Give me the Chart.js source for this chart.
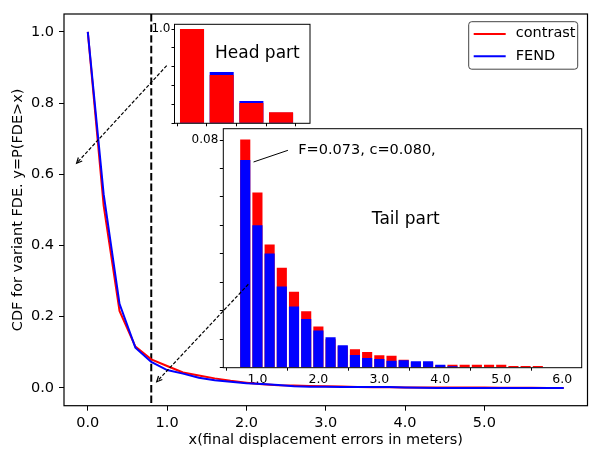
<!DOCTYPE html>
<html>
<head>
<meta charset="utf-8">
<script src="https://cdn.jsdelivr.net/npm/chart.js@4.4.1/dist/chart.umd.min.js"></script>
<style>
  html, body { margin: 0; padding: 0; background: #fff; }
  #wrap { position: relative; width: 589px; height: 451px; overflow: hidden; }
  #wrap canvas { position: absolute; }
  #headChart { left: 140px; top: 15px; z-index: 1; }
  #tailChart { left: 190px; top: 120px; z-index: 2; }
  #mainChart { left: 0; top: 0; z-index: 3; }
</style>
</head>
<body>
<div id="wrap">
  <canvas id="headChart" width="180" height="125"></canvas>
  <canvas id="tailChart" width="399" height="280"></canvas>
  <canvas id="mainChart" width="589" height="451"></canvas>
</div>
<script>
// P(FDE > x), sampled every 0.2 m
const headX = [0, 0.2, 0.4, 0.6];
const headContrast = [1.0, 0.512, 0.216, 0.116];
const headFend = [1.0, 0.544, 0.236, 0.113];

const tailX = [0.8, 1.0, 1.2, 1.4, 1.6, 1.8, 2.0, 2.2, 2.4, 2.6, 2.8, 3.0, 3.2, 3.4,
  3.6, 3.8, 4.0, 4.2, 4.4, 4.6, 4.8, 5.0, 5.2, 5.4, 5.6, 5.8, 6.0];
const tailContrast = [0.0802, 0.0616, 0.0433, 0.0351, 0.0267, 0.0198, 0.0145, 0.0100, 0.0075,
  0.0065, 0.0055, 0.0044, 0.0042, 0.0028, 0.0020, 0.0018, 0.0008, 0.0010, 0.0010, 0.0010,
  0.0010, 0.0010, 0.0006, 0.0006, 0.0006, 0, 0];
const tailFend = [0.0730, 0.0501, 0.0401, 0.0285, 0.0215, 0.0171, 0.0131, 0.0107, 0.0079,
  0.0045, 0.0034, 0.0031, 0.0024, 0.0026, 0.0023, 0.0023, 0.0010, 0.0005, 0, 0,
  0, 0, 0, 0, 0, 0, 0];

const mainXTicks = [0, 1, 2, 3, 4, 5];
const mainYTicks = [0, 0.2, 0.4, 0.6, 0.8, 1.0];
const headXTicks = [0, 0.2, 0.4, 0.6];
const headYTicks = [0, 0.2, 0.4, 0.6, 0.8, 1.0];
const tailXTicks = [1, 2, 3, 4, 5, 6];
const tailYTicks = [0, 0.01, 0.02, 0.03, 0.04, 0.05, 0.06, 0.07, 0.08];
const dashX = 0.8;

const RED = '#ff0000';
const BLUE = '#0000ff';
const FONT = "'DejaVu Sans', sans-serif";
Chart.defaults.font.family = FONT;
Chart.defaults.color = '#000';

const toPoints = (xs, ys) => xs.map((x, i) => ({ x, y: ys[i] }));

function axis(ticksList, opts) {
  return {
    type: 'linear',
    min: opts.min,
    max: opts.max,
    offset: false,
    border: { display: false },
    grid: { display: true, drawOnChartArea: false, drawTicks: true, tickLength: opts.tickLen, color: '#000', lineWidth: 1 },
    ticks: { color: '#000', font: { size: opts.size }, padding: opts.pad, maxRotation: 0, autoSkip: false, callback: opts.label },
    afterBuildTicks: (s) => { s.ticks = ticksList.map((v) => ({ value: v })); },
    afterFit: (s) => { if (s.isHorizontal()) s.height = opts.room; else s.width = opts.room; },
    title: opts.title || { display: false }
  };
}

const frame = {
  id: 'frame',
  beforeDraw(chart, args, o) {
    if (!o.fill) return;
    const a = chart.chartArea;
    chart.ctx.fillStyle = '#fff';
    chart.ctx.fillRect(a.left, a.top, a.right - a.left, a.bottom - a.top);
  },
  afterDraw(chart, args, o) {
    const a = chart.chartArea;
    const ctx = chart.ctx;
    ctx.save();
    ctx.strokeStyle = '#000';
    ctx.lineWidth = o.width || 1;
    ctx.strokeRect(a.left, a.top, a.right - a.left, a.bottom - a.top);
    ctx.restore();
  }
};

function textAt(chart, txt, x, y, size) {
  const ctx = chart.ctx;
  ctx.save();
  ctx.fillStyle = '#000';
  ctx.font = size + 'px ' + FONT;
  ctx.textBaseline = 'middle';
  ctx.textAlign = 'left';
  ctx.fillText(txt, chart.scales.x.getPixelForValue(x), chart.scales.y.getPixelForValue(y));
  ctx.restore();
}

// head inset
new Chart(document.getElementById('headChart'), {
  type: 'bar',
  data: {
    datasets: [
      { label: 'contrast', data: toPoints(headX, headContrast), backgroundColor: RED, order: 0 },
      { label: 'FEND', data: toPoints(headX, headFend), backgroundColor: BLUE, order: 1 }
    ]
  },
  options: {
    responsive: false, animation: false, events: [],
    datasets: { bar: { grouped: false, categoryPercentage: 1, barPercentage: 0.81 } },
    layout: { padding: { left: 0, top: 9.3, right: 10, bottom: 0 } },
    plugins: { legend: { display: false }, tooltip: { enabled: false }, frame: { fill: true } },
    scales: {
      x: axis(headXTicks, { min: -0.118, max: 0.795, tickLen: 3, size: 12, pad: 2, room: 16.7, label: () => '' }),
      y: axis(headYTicks, { min: 0, max: 1.05, tickLen: 3, size: 12, pad: 1, room: 34.5, label: (v) => (v === 1 ? '1.0' : '') })
    }
  },
  plugins: [frame, {
    id: 'headText',
    afterDatasetsDraw(chart) { textAt(chart, 'Head part', 0.155, 0.74, 17); }
  }]
});

// tail inset
new Chart(document.getElementById('tailChart'), {
  type: 'bar',
  data: {
    datasets: [
      { label: 'FEND', data: toPoints(tailX, tailFend), backgroundColor: BLUE, order: 0 },
      { label: 'contrast', data: toPoints(tailX, tailContrast), backgroundColor: RED, order: 1 }
    ]
  },
  options: {
    responsive: false, animation: false, events: [],
    datasets: { bar: { grouped: false, categoryPercentage: 1, barPercentage: 0.83 } },
    layout: { padding: { left: 0, top: 7.7, right: 7.3, bottom: 0 } },
    plugins: { legend: { display: false }, tooltip: { enabled: false }, frame: { fill: true } },
    scales: {
      x: axis(tailXTicks, { min: 0.44, max: 6.32, tickLen: 3, size: 12.5, pad: 1.5, room: 32.3, label: (v) => v.toFixed(1) }),
      y: axis(tailYTicks, { min: 0, max: 0.084, tickLen: 3.5, size: 12, pad: 1.5, room: 33.3, label: (v) => (v === 0.08 ? '0.08' : '') })
    }
  },
  plugins: [frame, {
    id: 'tailText',
    afterDatasetsDraw(chart) {
      const sx = chart.scales.x, sy = chart.scales.y, ctx = chart.ctx;
      ctx.save();
      ctx.strokeStyle = '#000';
      ctx.lineWidth = 1;
      ctx.beginPath();
      ctx.moveTo(sx.getPixelForValue(0.936), sy.getPixelForValue(0.0723));
      ctx.lineTo(sx.getPixelForValue(1.5), sy.getPixelForValue(0.0764));
      ctx.stroke();
      ctx.restore();
      textAt(chart, `F=${tailFend[0].toFixed(3)}, c=${tailContrast[0].toFixed(3)},`, 1.67, 0.0764, 14.5);
      textAt(chart, 'Tail part', 2.877, 0.052, 17);
    }
  }]
});

// arrows from the insets to the parts of the curve they zoom into
const arrows = [
  { from: [0.995, 0.905], to: [-0.141, 0.631] },
  { from: [2.024, 0.291], to: [0.869, 0.0174] }
];

const mainMarks = {
  id: 'mainMarks',
  beforeDatasetsDraw(chart) {
    const ctx = chart.ctx, a = chart.chartArea;
    const px = chart.scales.x.getPixelForValue(dashX);
    ctx.save();
    ctx.strokeStyle = '#000';
    ctx.lineWidth = 2;
    ctx.setLineDash([7.4, 3.2]);
    ctx.beginPath();
    ctx.moveTo(px, a.top);
    ctx.lineTo(px, a.bottom);
    ctx.stroke();
    ctx.restore();
  },
  afterDraw(chart) {
    const ctx = chart.ctx, a = chart.chartArea, sx = chart.scales.x, sy = chart.scales.y;
    ctx.save();
    ctx.strokeStyle = '#000';
    ctx.lineWidth = 1.2;
    arrows.forEach((ar) => {
      const x0 = sx.getPixelForValue(ar.from[0]), y0 = sy.getPixelForValue(ar.from[1]);
      const x1 = sx.getPixelForValue(ar.to[0]), y1 = sy.getPixelForValue(ar.to[1]);
      ctx.setLineDash([3.5, 1.8]);
      ctx.beginPath();
      ctx.moveTo(x0, y0);
      ctx.lineTo(x1, y1);
      ctx.stroke();
      const ang = Math.atan2(y0 - y1, x0 - x1);
      ctx.setLineDash([]);
      ctx.beginPath();
      ctx.moveTo(x1 + 6 * Math.cos(ang + 0.45), y1 + 6 * Math.sin(ang + 0.45));
      ctx.lineTo(x1, y1);
      ctx.lineTo(x1 + 6 * Math.cos(ang - 0.45), y1 + 6 * Math.sin(ang - 0.45));
      ctx.stroke();
    });

    // legend box, upper right
    const w = 109, h = 47.5, r = 3;
    const lx = a.right - 9.8 - w, ly = a.top + 7.7;
    ctx.lineWidth = 1;
    ctx.beginPath();
    ctx.moveTo(lx + r, ly);
    ctx.arcTo(lx + w, ly, lx + w, ly + h, r);
    ctx.arcTo(lx + w, ly + h, lx, ly + h, r);
    ctx.arcTo(lx, ly + h, lx, ly, r);
    ctx.arcTo(lx, ly, lx + w, ly, r);
    ctx.closePath();
    ctx.fillStyle = 'rgba(255,255,255,0.8)';
    ctx.fill();
    ctx.strokeStyle = '#444';
    ctx.stroke();
    ctx.font = '14.5px ' + FONT;
    ctx.textBaseline = 'middle';
    ctx.fillStyle = '#000';
    chart.data.datasets.forEach((ds, i) => {
      const y = ly + 12.3 + i * 22.3;
      ctx.strokeStyle = ds.borderColor;
      ctx.lineWidth = 2;
      ctx.beginPath();
      ctx.moveTo(lx + 5, y);
      ctx.lineTo(lx + 37, y);
      ctx.stroke();
      ctx.fillText(ds.label, lx + 47, y - 0.5);
    });
    ctx.restore();
  }
};

new Chart(document.getElementById('mainChart'), {
  type: 'line',
  data: {
    datasets: [
      { label: 'contrast', data: toPoints(headX.concat(tailX), headContrast.concat(tailContrast)), borderColor: RED, borderWidth: 2, pointRadius: 0, tension: 0, order: 1 },
      { label: 'FEND', data: toPoints(headX.concat(tailX), headFend.concat(tailFend)), borderColor: BLUE, borderWidth: 2, pointRadius: 0, tension: 0, order: 0 }
    ]
  },
  options: {
    responsive: false, animation: false, events: [],
    layout: { padding: { left: 0, top: 14, right: 1.5, bottom: 0 } },
    plugins: { legend: { display: false }, tooltip: { enabled: false }, frame: { fill: false, width: 1.2 } },
    scales: {
      x: axis(mainXTicks, {
        min: -0.3, max: 6.3, tickLen: 5, size: 14.5, pad: 4, room: 45.3, label: (v) => v.toFixed(1),
        title: { display: true, text: 'x(final displacement errors in meters)', font: { size: 14.5 }, color: '#000', padding: { top: 0, bottom: 2 } }
      }),
      y: axis(mainYTicks, {
        min: -0.05, max: 1.05, tickLen: 5, size: 14.5, pad: 5, room: 64, label: (v) => v.toFixed(1),
        title: { display: true, text: 'CDF for variant FDE. y=P(FDE>x)', font: { size: 14.5 }, color: '#000', padding: { top: 9.3, bottom: 0 } }
      })
    }
  },
  plugins: [frame, mainMarks]
});
</script>
</body>
</html>
